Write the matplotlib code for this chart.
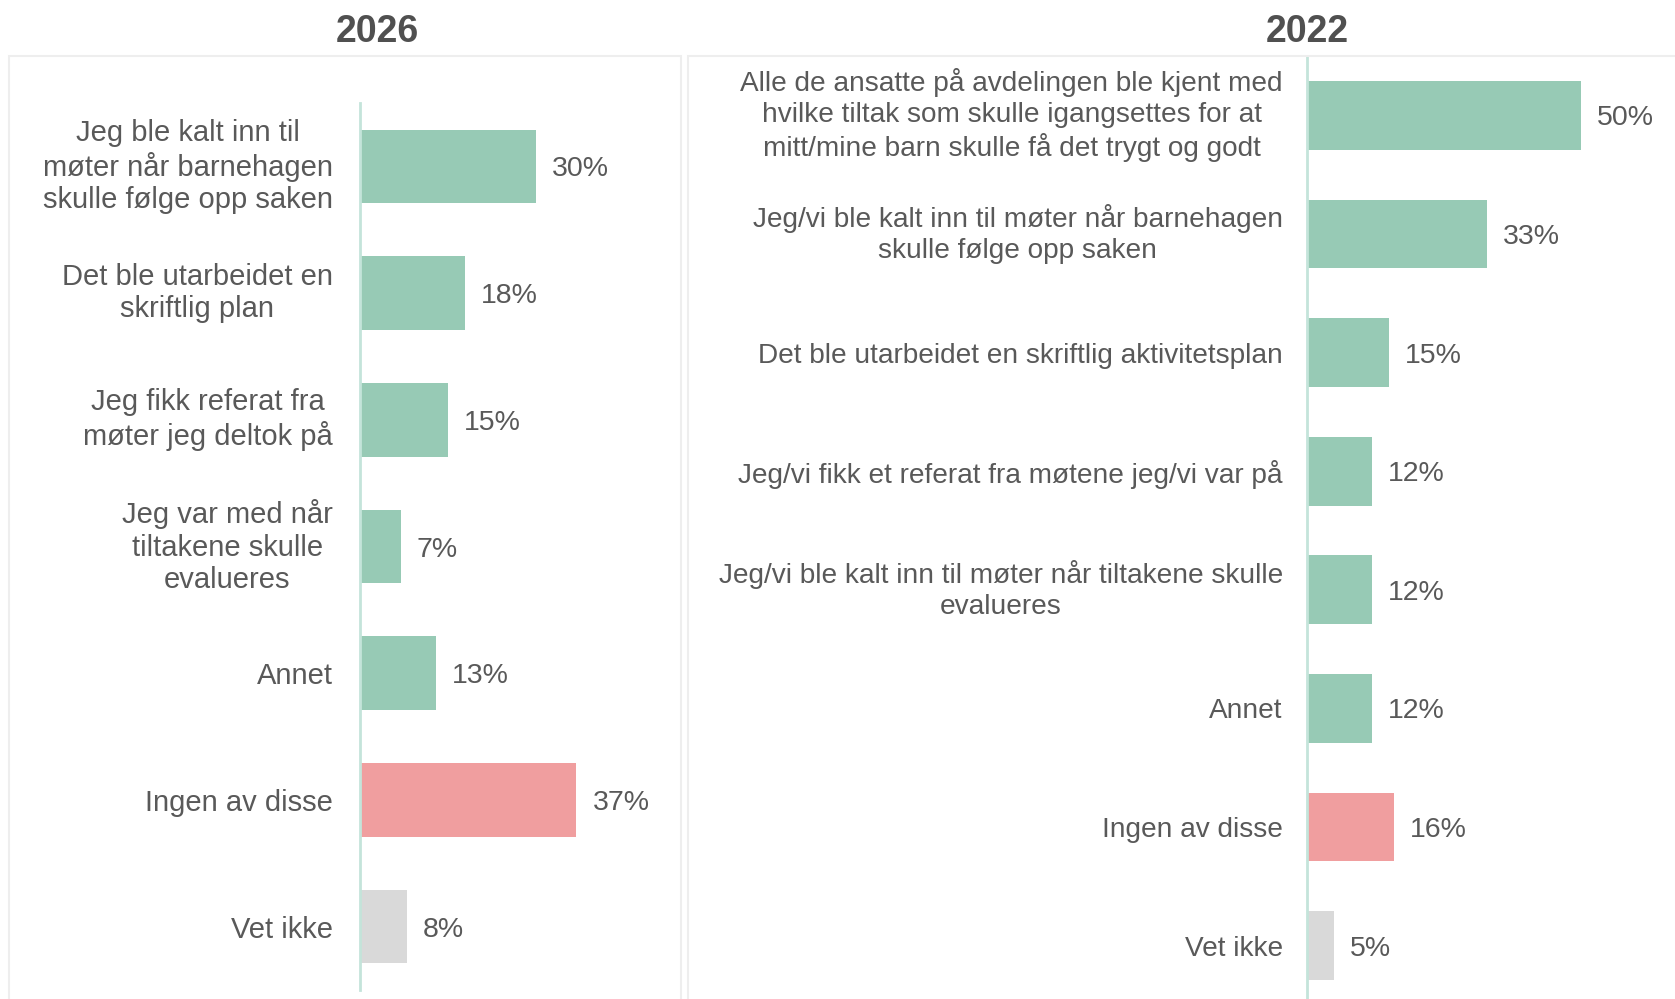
import matplotlib
matplotlib.use("Agg")
import matplotlib.pyplot as plt
from matplotlib.patches import Rectangle

plt.rcParams['font.family'] = ['Liberation Sans', 'DejaVu Sans']

# data
left_labels = [
    "Jeg ble kalt inn til\nmøter når barnehagen\nskulle følge opp saken",
    "Det ble utarbeidet en\nskriftlig plan",
    "Jeg fikk referat fra\nmøter jeg deltok på",
    "Jeg var med når\ntiltakene skulle\nevalueres",
    "Annet",
    "Ingen av disse",
    "Vet ikke",
]
left_values = [30, 18, 15, 7, 13, 37, 8]

right_labels = [
    "Alle de ansatte på avdelingen ble kjent med\nhvilke tiltak som skulle igangsettes for at\nmitt/mine barn skulle få det trygt og godt",
    "Jeg/vi ble kalt inn til møter når barnehagen\nskulle følge opp saken",
    "Det ble utarbeidet en skriftlig aktivitetsplan",
    "Jeg/vi fikk et referat fra møtene jeg/vi var på",
    "Jeg/vi ble kalt inn til møter når tiltakene skulle\nevalueres",
    "Annet",
    "Ingen av disse",
    "Vet ikke",
]
right_values = [50, 33, 15, 12, 12, 12, 16, 5]

GREEN = '#97CAB5'
PINK = '#F09E9F'
GREY = '#D9D9D9'
TEXT = '#595959'
AXLINE = '#C4E4DA'
FRAME = '#EEEEEE'

W, H = 1675, 999
fig = plt.figure(figsize=(W / 100, H / 100), dpi=100)


def px_axes(x0, y0, x1, y1):
    # pixel box (top-left origin) -> figure axes
    return fig.add_axes([x0 / W, 1 - y1 / H, (x1 - x0) / W, (y1 - y0) / H])


def bar_colors(labels):
    cols = []
    for lab in labels:
        if lab == "Ingen av disse":
            cols.append(PINK)
        elif lab == "Vet ikke":
            cols.append(GREY)
        else:
            cols.append(GREEN)
    return cols


def draw_panel(ax, labels, values, xmax, fs_cat, fs_val, pad, lsp):
    n = len(labels)
    ypos = list(range(n))
    ax.barh(ypos, values, height=0.58, color=bar_colors(labels))
    ax.set_xlim(0, xmax)
    ax.set_ylim(n - 0.5, -0.5)
    ax.set_yticks(ypos)
    ax.set_yticklabels(labels, fontsize=fs_cat, color=TEXT)
    for t in ax.get_yticklabels():
        t.set_multialignment('center')
        t.set_linespacing(lsp)
        if "\n" in t.get_text():
            t.set_verticalalignment('center')
    ax.tick_params(axis='y', length=0, pad=pad)
    ax.set_xticks([])
    for s in ['top', 'right', 'bottom']:
        ax.spines[s].set_visible(False)
    ax.spines['left'].set_color(AXLINE)
    ax.spines['left'].set_linewidth(2)
    ax.patch.set_alpha(0)
    for y, v in zip(ypos, values):
        ax.annotate(f"{v}%", (v, y), xytext=(11.5, -2.2), textcoords='offset points',
                    ha='left', va='center', fontsize=fs_val, color=TEXT)


# panel frames
fig.add_artist(Rectangle((9 / W, -0.05), (681 - 9) / W, 1 - 56 / H + 0.05,
                         transform=fig.transFigure, fill=False, edgecolor=FRAME, lw=1.5))
fig.add_artist(Rectangle((688 / W, -0.05), 1.2, 1 - 56 / H + 0.05,
                         transform=fig.transFigure, fill=False, edgecolor=FRAME, lw=1.5))

ax1 = px_axes(360, 103, 660, 990)
draw_panel(ax1, left_labels, left_values, 300 / 5.85, 21, 20.5, 19.5, 1.21)

ax2 = px_axes(1306.5, 56, 1675, 1005)
draw_panel(ax2, right_labels, right_values, (1675 - 1306.5) / 5.48, 20.2, 20.5, 17, 1.23)

title_font = dict(fontsize=27, fontweight='bold', color='#505050',
                  family=['Liberation Sans Narrow', 'Liberation Sans'],
                  ha='center', va='center')
fig.text(377 / W, 1 - 32 / H, "2026", **title_font)
fig.text(1307 / W, 1 - 32 / H, "2022", **title_font)

fig.savefig("out.png", dpi=100)
